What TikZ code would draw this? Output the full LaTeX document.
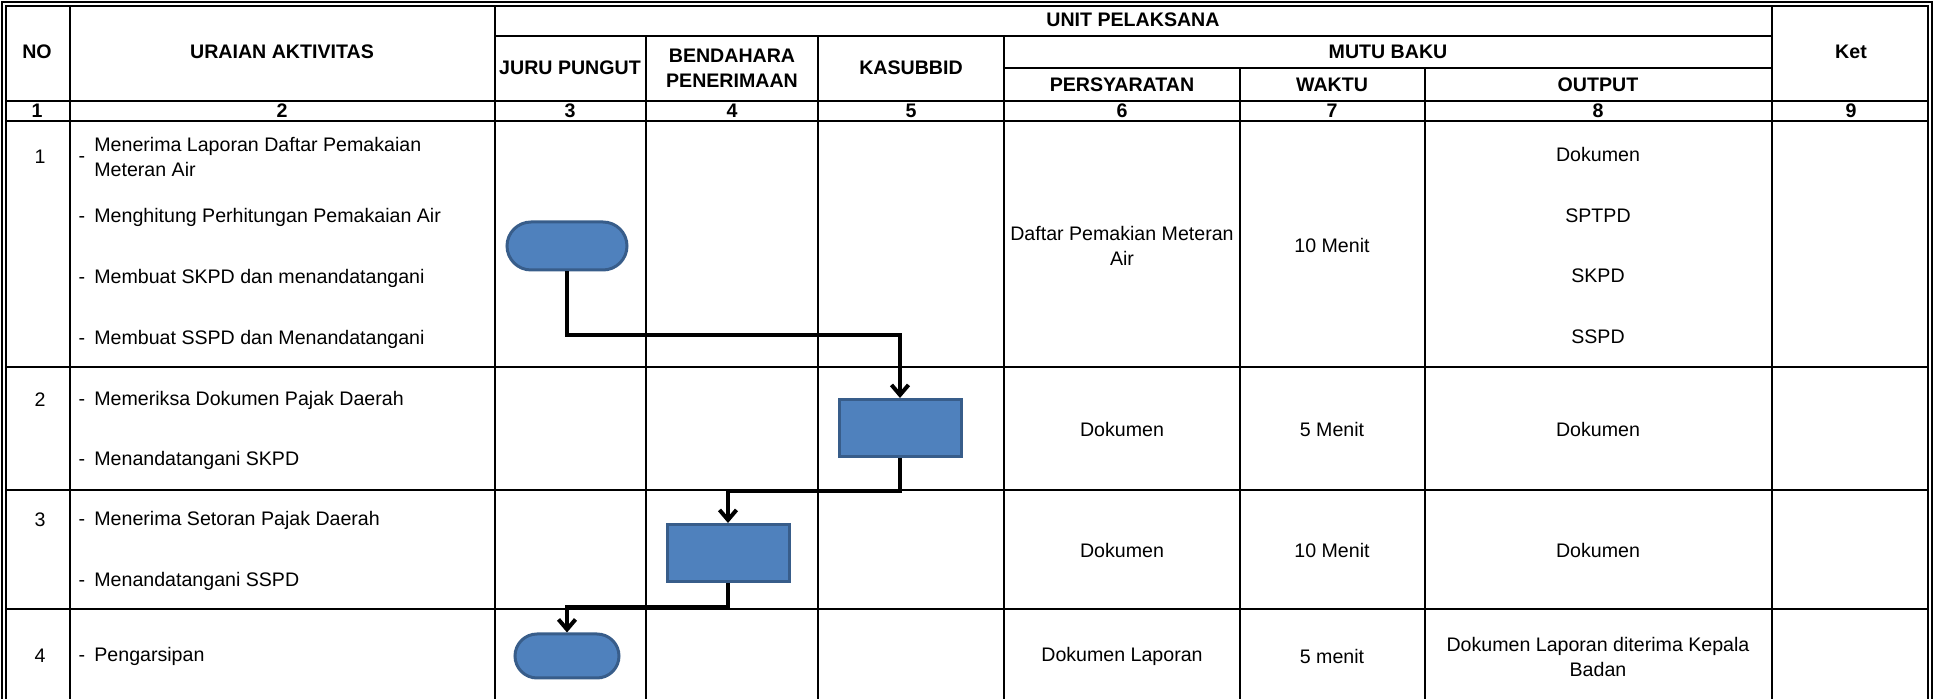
\documentclass[tikz,border=0pt]{standalone}
\usepackage{fontspec}
\setmainfont{Liberation Sans}
\usetikzlibrary{arrows.meta, positioning, shapes.misc}
\definecolor{flowblue}{HTML}{4F81BD}
\definecolor{flowedge}{HTML}{385D8A}

\begin{document}
\begin{tikzpicture}[x=0.5pt, y=-0.5pt,
    every node/.style={font=\fontsize{9.8}{12.3}\selectfont, inner sep=0pt},
    hd/.style={font=\fontsize{9.8}{12.3}\selectfont\bfseries, align=center},
    cell/.style={align=center},
    item/.style={anchor=west, align=left},
    grid/.style={line width=1pt},
    rowline/.style={line width=0.75pt},
    outer/.style={double, line width=0.7pt, double distance=1.3pt},
    term/.style={rounded rectangle, draw=flowedge, fill=flowblue, line width=1.5pt},
    proc/.style={rectangle, draw=flowedge, fill=flowblue, line width=1.5pt,
        minimum width=61pt, minimum height=28.5pt},
    arr/.style={line width=2pt, -{Straight Barb[length=5pt, width=8.5pt]}}]
    \useasboundingbox (0,0) rectangle (1934,699);

    % table lines
    \draw[grid] (495,36) -- (1772,36);
    \draw[grid] (1004,68) -- (1772,68);
    \draw[grid] (4,101) -- (1930,101);
    \draw[grid] (4,121) -- (1930,121);
    \foreach \y in {367,490,609}
        \draw[rowline] (4,\y) -- (1930,\y);
    \foreach \x in {70,495,1772}
        \draw[grid] (\x,4) -- (\x,699);
    \foreach \x in {646,818,1004}
        \draw[grid] (\x,36) -- (\x,699);
    \foreach \x in {1240,1425}
        \draw[grid] (\x,68) -- (\x,699);
    \draw[outer] (4,699) -- (4,4) -- (1930,4) -- (1930,699);

    % header
    \node[hd] (no) at (37,52) {NO};
    \node[hd] (uraian) at (282,52) {URAIAN AKTIVITAS};
    \node[hd] (unit) at (1133,20) {UNIT PELAKSANA};
    \node[hd] (juru) at (570,68) {JURU PUNGUT};
    \node[hd] (bend) at (732,68) {BENDAHARA\\PENERIMAAN};
    \node[hd] (kasub) at (911,68) {KASUBBID};
    \node[hd] (mutu) at (1388,52) {MUTU BAKU};
    \node[hd] (syarat) at (1122,85) {PERSYARATAN};
    \node[hd] (waktu) at (1332,85) {WAKTU};
    \node[hd] (output) at (1598,85) {OUTPUT};
    \node[hd] (ket) at (1851,52) {Ket};
    \foreach \n/\x in {1/37,2/282,3/570,4/732,5/911,6/1122,7/1332,8/1598,9/1851}
        \node[hd] (k\n) at (\x,111) {\n};

    % row numbers
    \foreach \n/\y in {1/157,2/400,3/520,4/656}
        \node (r\n) at (40,\y) {\n};

    % activities
    \foreach \n/\y/\t in {a/157/{Menerima Laporan Daftar Pemakaian\\Meteran Air},
            b/217/{Menghitung Perhitungan Pemakaian Air},
            c/278/{Membuat SKPD dan menandatangani},
            d/339/{Membuat SSPD dan Menandatangani},
            e/400/{Memeriksa Dokumen Pajak Daerah},
            f/460/{Menandatangani SKPD},
            g/520/{Menerima Setoran Pajak Daerah},
            h/581/{Menandatangani SSPD},
            i/656/{Pengarsipan}} {
        \node[anchor=mid] (d\n) at (82,\y) {-};
        \node[item] (\n) at (94,\y) {\t};
    }

    % mutu baku
    \node[cell] (s1) at (1122,246) {Daftar Pemakian Meteran\\Air};
    \node[cell] (w1) at (1332,245) {10 Menit};
    \node[cell] (o1a) at (1598,155) {Dokumen};
    \node[cell] (o1b) at (1598,216) {SPTPD};
    \node[cell] (o1c) at (1598,276) {SKPD};
    \node[cell] (o1d) at (1598,337) {SSPD};
    \node[cell] (s2) at (1122,429) {Dokumen};
    \node[cell] (w2) at (1332,429) {5 Menit};
    \node[cell] (o2) at (1598,429) {Dokumen};
    \node[cell] (s3) at (1122,550) {Dokumen};
    \node[cell] (w3) at (1332,550) {10 Menit};
    \node[cell] (o3) at (1598,550) {Dokumen};
    \node[cell] (s4) at (1122,656) {Dokumen Laporan};
    \node[cell] (w4) at (1332,656) {5 menit};
    \node[cell] (o4) at (1598,657) {Dokumen Laporan diterima Kepala\\Badan};

    % flow
    \node[term, minimum width=60pt, minimum height=24pt] (start) at (567,246) {};
    \node[proc] (periksa) at (900,428) {};
    \node[proc] (setor) at (728,553) {};
    \node[term, minimum width=52pt, minimum height=22pt] (arsip) at (567,656) {};
    \draw[arr] (start.south) -- ++(0,64) -| (periksa.north);
    \draw[arr] (periksa.south) -- ++(0,33) -| (setor.north);
    \draw[arr] (setor.south) -- ++(0,24) -| (arsip.north);
\end{tikzpicture}
\end{document}
